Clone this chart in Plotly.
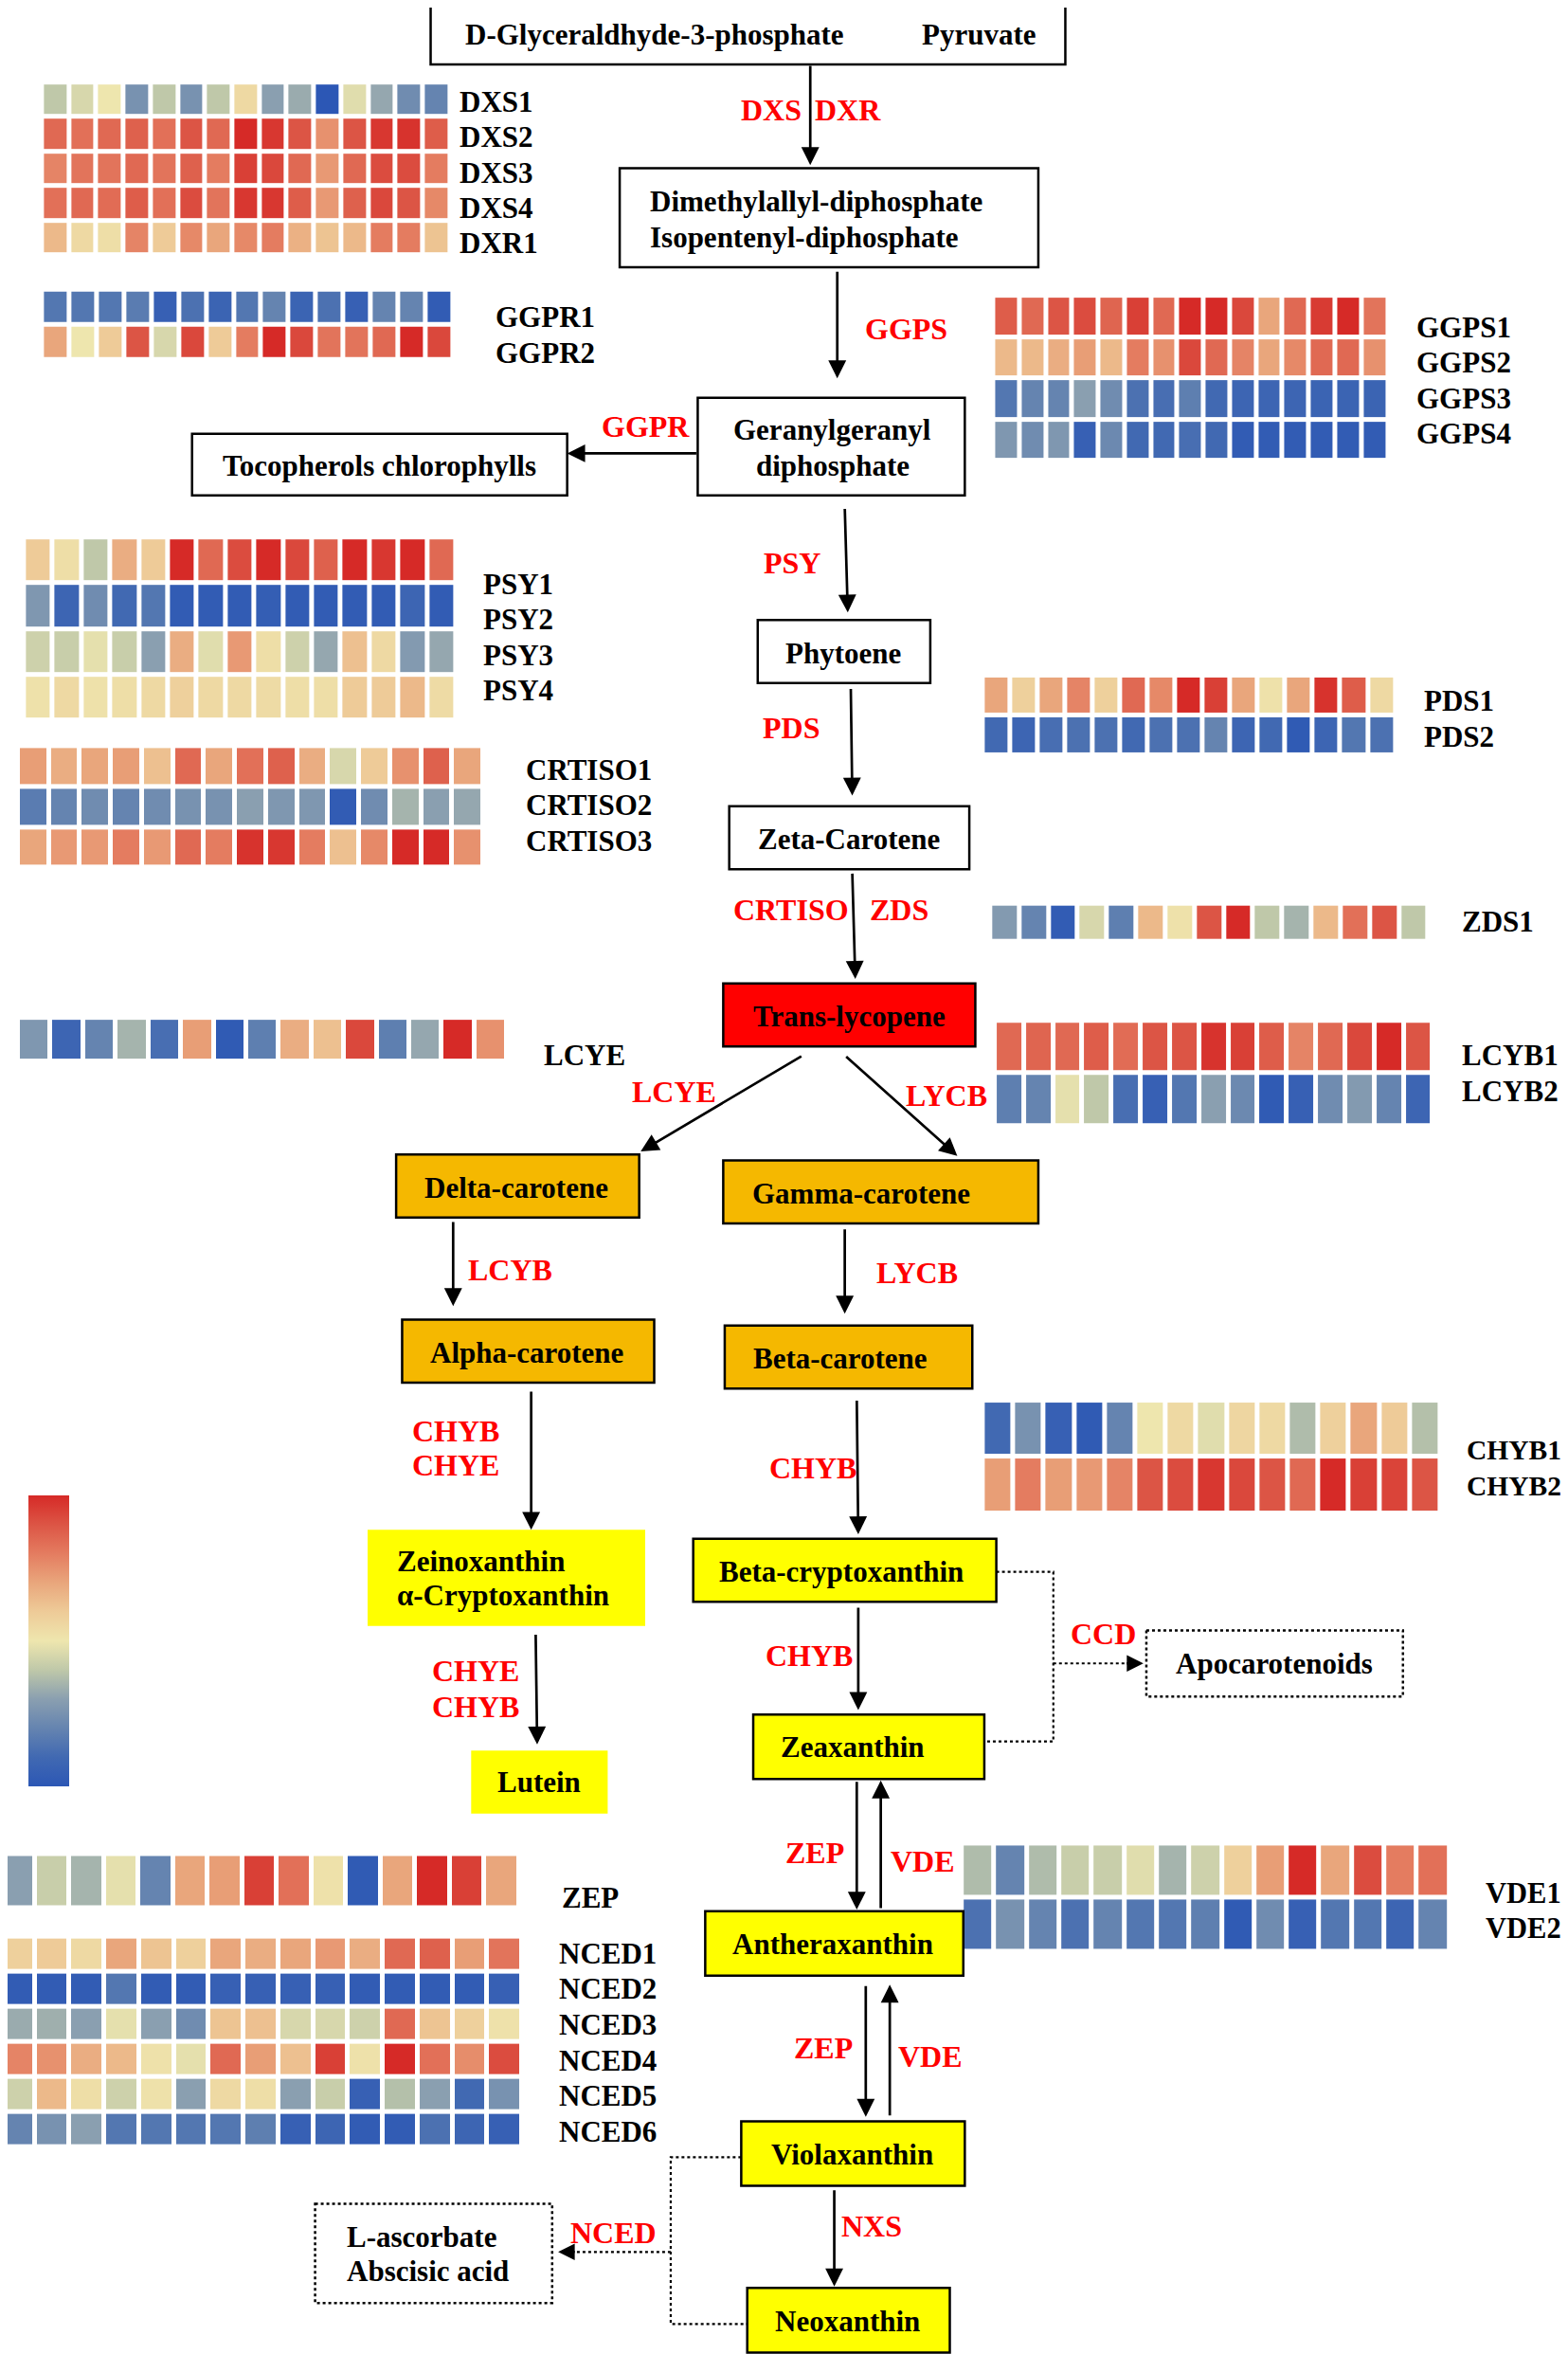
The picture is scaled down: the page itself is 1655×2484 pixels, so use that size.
import plotly.graph_objects as go

# ---------------- DATA (expression level, 0 = low/blue ... 10 = high/red) ----------------
DXS_GENES = ["DXS1", "DXS2", "DXS3", "DXS4", "DXR1"]
DXS_VALUES = [
    [4, 4.5, 5, 2.5, 4, 2.5, 4, 5.5, 3, 3.3, 0, 4.7, 3.2, 2.3, 2],
    [8.5, 8.3, 8.5, 8.7, 8.3, 9, 8.5, 10, 9.7, 9, 7.5, 9, 9.7, 9.8, 8.8],
    [7.8, 8.2, 8.2, 8.5, 8.2, 8.7, 8, 9.5, 9.3, 8.5, 7.3, 8.5, 9.2, 9.2, 8],
    [8.3, 8.5, 8.4, 8.8, 8.3, 9.2, 8.2, 9.7, 9.7, 8.8, 7.3, 8.7, 9.3, 9, 7.7],
    [6.5, 5.5, 5.3, 7.8, 6, 7.7, 7, 7.7, 8, 6.7, 6.2, 6.5, 8, 8, 6.2],
]
GGPR_GENES = ["GGPR1", "GGPR2"]
GGPR_VALUES = [
    [1.5, 1.5, 1.5, 1.7, 0.5, 1.3, 0.7, 1.5, 2, 0.7, 1.3, 0.5, 2, 2, 0.3],
    [7, 5, 6, 9, 4.5, 9.3, 6, 8, 10, 9.3, 8.2, 8.2, 8.5, 10, 9.3],
]
GGPS_GENES = ["GGPS1", "GGPS2", "GGPS3", "GGPS4"]
GGPS_VALUES = [
    [8.8, 8.5, 9, 9.2, 8.6, 9.5, 8.5, 10, 10, 9.3, 7, 8.5, 9.6, 10, 8.2],
    [6.5, 6.5, 6.8, 7.2, 6.5, 8, 7.5, 9.3, 8.5, 7.8, 7, 7.7, 8.5, 8.5, 7.5],
    [1.5, 2, 2, 3, 2.3, 1.3, 1.2, 1.8, 1, 0.8, 0.8, 0.8, 0.7, 0.7, 0.7],
    [2.7, 2.3, 2.7, 0.5, 2.2, 1, 1, 1.2, 1, 0.3, 0.3, 0.3, 0.3, 0.3, 0.3],
]
PSY_GENES = ["PSY1", "PSY2", "PSY3", "PSY4"]
PSY_VALUES = [
    [6, 5.3, 4, 6.8, 6, 10, 8.5, 9.2, 10, 9.3, 8.7, 10, 9.7, 10, 8.5],
    [2.7, 0.8, 2.3, 1, 1.5, 0.3, 0.3, 0.3, 0.4, 0.3, 0.3, 0.3, 0.3, 0.8, 0.3],
    [4.3, 4.2, 4.8, 4.2, 3, 6.8, 4.7, 7.3, 5.3, 4.3, 3.2, 6.3, 5.5, 2.8, 3.2],
    [5.2, 5.5, 5.2, 5.3, 5.5, 5.8, 5.5, 5.5, 5.4, 5.3, 5.3, 6, 6, 6.5, 5.4],
]
CRTISO_GENES = ["CRTISO1", "CRTISO2", "CRTISO3"]
CRTISO_VALUES = [
    [7.2, 6.8, 7, 7.2, 6.3, 8.5, 7, 8.3, 8.7, 6.8, 4.5, 6, 7.5, 8.7, 7],
    [1.7, 2, 2.3, 2, 2.3, 2.5, 2.5, 3, 2.7, 2.7, 0.3, 2.3, 3.5, 3, 3.2],
    [7, 7.3, 7.3, 8, 7.3, 8.5, 8, 9.8, 9.7, 8, 6.3, 7.7, 10, 10, 7.5],
]
PDS_GENES = ["PDS1", "PDS2"]
PDS_VALUES = [
    [7, 5.8, 7, 7.8, 5.8, 8.5, 7.7, 10, 9.5, 7, 5.2, 7, 9.8, 8.8, 5.5],
    [1, 0.8, 1.2, 1.3, 1.3, 1, 1.3, 1.3, 2, 0.8, 1, 0.2, 0.8, 1.5, 1.3],
]
ZDS_GENES = ["ZDS1"]
ZDS_VALUES = [
    [2.8, 2, 0.3, 4.5, 1.8, 6.5, 5.2, 9, 10, 4, 3.5, 6.5, 8.3, 9, 4],
]
LCYE_GENES = ["LCYE"]
LCYE_VALUES = [
    [2.7, 0.8, 2, 3.5, 1.2, 7.2, 0.2, 1.8, 6.8, 6.3, 9.3, 1.8, 3.2, 10, 7.5],
]
LCYB_GENES = ["LCYB1", "LCYB2"]
LCYB_VALUES = [
    [8.5, 8.6, 8.5, 8.8, 8.4, 9, 9, 9.8, 9.5, 8.8, 7.8, 8.5, 9.3, 10, 9],
    [1.8, 2, 4.8, 4, 1.2, 0.5, 1.5, 3, 2.2, 0.2, 0.5, 2.3, 2.8, 2, 0.8],
]
CHYB_GENES = ["CHYB1", "CHYB2"]
CHYB_VALUES = [
    [1, 2.5, 0.5, 0.2, 2, 5, 5.5, 4.7, 5.6, 5.5, 3.7, 5.8, 7, 6, 3.8],
    [7.2, 8, 7.2, 7.3, 7.8, 9, 9.2, 9.7, 9.3, 9, 8.5, 10, 9.5, 9.4, 9],
]
ZEP_GENES = ["ZEP"]
ZEP_VALUES = [
    [3, 4.2, 3.5, 4.8, 2, 7, 7.2, 9.5, 8.3, 5.2, 0.2, 7, 10, 9.5, 7],
]
NCED_GENES = ["NCED1", "NCED2", "NCED3", "NCED4", "NCED5", "NCED6"]
NCED_VALUES = [
    [5.8, 6, 5.5, 7, 6.2, 5.8, 7, 6.8, 7, 7.3, 6.8, 8.5, 8.7, 7.2, 8.2],
    [0.3, 0.3, 0.3, 1.5, 0.3, 0.3, 0.5, 0.5, 0.5, 0.5, 0.3, 0.3, 0.3, 0.3, 0.5],
    [3.3, 3.4, 3, 4.8, 3, 2.3, 6.2, 6.3, 4.5, 4.5, 4.3, 8.5, 6.2, 5.8, 5.2],
    [7.8, 7.5, 6.8, 6.5, 5.2, 4.8, 8.5, 7.2, 6.3, 9.5, 5.2, 10, 8.3, 7.6, 9.2],
    [4.3, 6.5, 5.3, 4.3, 5.2, 3, 5.5, 5.3, 3, 4.2, 0.5, 3.8, 3, 1, 2.5],
    [2, 2.5, 3, 1.5, 1.5, 1.5, 1.5, 1.8, 0.5, 0.8, 0.3, 0.3, 1.3, 0.8, 0.5],
]
VDE_GENES = ["VDE1", "VDE2"]
VDE_VALUES = [
    [3.7, 2, 3.7, 4.2, 4.2, 4.7, 3.5, 4.3, 5.8, 7.2, 10, 7, 9.2, 8, 8.3],
    [1.3, 2.5, 2, 1.3, 2, 1.5, 1.5, 1.8, 0.2, 2.3, 0.5, 1.5, 1.5, 0.8, 2],
]

# ---------------- LAYOUT (coordinates in a 1045 x 1568 frame) ----------------
XR, YR = 1045, 1568
PAGE_MARGIN = 8                     # default body margin of the html page (px)
SCALE = 1655 / XR
X0 = PAGE_MARGIN / SCALE
Y0 = PAGE_MARGIN / SCALE
FIG_W, FIG_H = 1655 - PAGE_MARGIN, 2484 - PAGE_MARGIN

FONT = "Liberation Serif, Times New Roman, serif"
FS = 31
FS_RED = 32
RED = "#ff0000"

COLORSCALE = [
    [0.0, "#2c57b5"], [0.1, "#4169b2"], [0.2, "#6584b0"], [0.3, "#8a9fb0"],
    [0.4, "#bfc8a9"], [0.5, "#eee6ae"], [0.6, "#eecb98"], [0.7, "#e9a67c"],
    [0.8, "#e47c60"], [0.9, "#dc5545"], [1.0, "#d62a27"],
]

# (genes, values, (x_left, x_right, y_top, y_bottom), (label_x, label_y0, label_dy, size))
BLOCKS = [
    (DXS_GENES, DXS_VALUES, (28, 300, 55, 170), (305, 68, 23.5, FS)),
    (GGPR_GENES, GGPR_VALUES, (28, 302, 193, 240), (329, 211, 24, FS)),
    (GGPS_GENES, GGPS_VALUES, (662, 925, 197, 307), (943, 218, 23.7, FS)),
    (PSY_GENES, PSY_VALUES, (16, 304, 358, 480), (321, 389, 23.7, FS)),
    (CRTISO_GENES, CRTISO_VALUES, (12, 322, 497, 578), (349, 513, 23.5, FS)),
    (PDS_GENES, PDS_VALUES, (655, 930, 450, 503), (948, 467, 24, FS)),
    (ZDS_GENES, ZDS_VALUES, (660, 952, 602, 627), (973, 614, 24, FS)),
    (LCYE_GENES, LCYE_VALUES, (12, 338, 678, 707), (361, 703, 24, FS)),
    (LCYB_GENES, LCYB_VALUES, (663, 955, 680, 750), (973, 703, 24, FS)),
    (CHYB_GENES, CHYB_VALUES, (655, 960, 933, 1008), (976, 966, 24, 29.5)),
    (ZEP_GENES, ZEP_VALUES, (0, 346, 1235, 1271), (373, 1264, 24, FS)),
    (NCED_GENES, NCED_VALUES, (0, 348, 1290, 1430), (371, 1301, 23.8, FS)),
    (VDE_GENES, VDE_VALUES, (641, 966, 1228, 1300), (989, 1261, 23.5, 30.5)),
]

fig = go.Figure()
annotations = []
shapes = []

for i, (genes, vals, (xl, xr, yt, yb), (lx, ly0, ldy, lfs)) in enumerate(BLOCKS):
    ncol = len(vals[0])
    nrow = len(vals)
    dx = (xr - xl) / ncol
    dy = (yb - yt) / nrow
    tr = dict(
        z=vals, x0=xl + dx / 2, dx=dx, y0=yt + dy / 2, dy=dy,
        colorscale=COLORSCALE, zmin=0, zmax=10, xgap=5, ygap=5,
        hoverinfo="skip", showscale=(i == 0),
    )
    if i == 0:
        tr["colorbar"] = dict(
            x=(19 - X0) / (XR - X0), xanchor="left",
            y=(YR - 1093) / (YR - Y0), yanchor="middle",
            len=194 / (YR - Y0), lenmode="fraction", thickness=43, thicknessmode="pixels",
            showticklabels=False, ticks="", outlinewidth=0, xpad=0, ypad=0,
        )
    fig.add_trace(go.Heatmap(**tr))
    for k, g in enumerate(genes):
        annotations.append(dict(
            x=lx, y=ly0 + k * ldy, text=g, showarrow=False, xanchor="left", yanchor="middle",
            font=dict(family=FONT, size=lfs, color="black", weight="bold"),
        ))

# Boxes: (x0, x1, y0, y1, fill, border)
BOXES = [
    (287, 710, 2, 43, "white", "solid"),
    (413, 692, 112, 178, "white", "solid"),
    (465, 643, 265, 330, "white", "solid"),
    (128, 378, 289, 330, "white", "solid"),
    (505, 620, 413, 455, "white", "solid"),
    (486, 646, 537, 579, "white", "solid"),
    (482, 650, 655, 697, "#ff0000", "solid"),
    (264, 426, 769, 811, "#f5b800", "solid"),
    (482, 692, 773, 815, "#f5b800", "solid"),
    (268, 436, 879, 921, "#f5b800", "solid"),
    (483, 648, 883, 925, "#f5b800", "solid"),
    (245, 430, 1019, 1083, "#ffff00", None),
    (462, 664, 1025, 1067, "#ffff00", "solid"),
    (314, 405, 1166, 1208, "#ffff00", None),
    (502, 656, 1142, 1185, "#ffff00", "solid"),
    (470, 642, 1273, 1316, "#ffff00", "solid"),
    (494, 643, 1413, 1456, "#ffff00", "solid"),
    (498, 633, 1524, 1567, "#ffff00", "solid"),
    (764, 935, 1086, 1130, "white", "dot"),
    (210, 368, 1468, 1534, "white", "dot"),
]
for (x0, x1, y0, y1, fill, border) in BOXES:
    line = dict(width=0) if border is None else dict(color="black", width=2.5, dash=border)
    shapes.append(dict(type="rect", xref="x", yref="y", x0=x0, x1=x1, y0=y0, y1=y1,
                       fillcolor=fill, line=line, layer="above"))

# Box texts: (x, y, text, xanchor)
BOX_TEXTS = [
    (309, 23, "D-Glyceraldhyde-3-phosphate", "left"),
    (692, 23, "Pyruvate", "right"),
    (432, 134, "Dimethylallyl-diphosphate", "left"),
    (432, 158, "Isopentenyl-diphosphate", "left"),
    (555, 286, "Geranylgeranyl", "center"),
    (555, 310, "diphosphate", "center"),
    (253, 310, "Tocopherols chlorophylls", "center"),
    (562, 435, "Phytoene", "center"),
    (566, 559, "Zeta-Carotene", "center"),
    (566, 677, "Trans-lycopene", "center"),
    (344, 791, "Delta-carotene", "center"),
    (574, 795, "Gamma-carotene", "center"),
    (351, 901, "Alpha-carotene", "center"),
    (560, 905, "Beta-carotene", "center"),
    (263, 1040, "Zeinoxanthin", "left"),
    (263, 1063, "α-Cryptoxanthin", "left"),
    (561, 1047, "Beta-cryptoxanthin", "center"),
    (359, 1187, "Lutein", "center"),
    (568, 1164, "Zeaxanthin", "center"),
    (555, 1295, "Antheraxanthin", "center"),
    (568, 1435, "Violaxanthin", "center"),
    (565, 1546, "Neoxanthin", "center"),
    (849, 1108, "Apocarotenoids", "center"),
    (230, 1490, "L-ascorbate", "left"),
    (230, 1513, "Abscisic acid", "left"),
]
for (x, y, t, xa) in BOX_TEXTS:
    annotations.append(dict(x=x, y=y, text=t, showarrow=False, xanchor=xa, yanchor="middle",
                            font=dict(family=FONT, size=FS, color="black", weight="bold")))

# Enzyme labels
ENZ = [
    (514, 73, "DXS"), (565, 73, "DXR"), (604, 219, "GGPS"), (430, 284, "GGPR"),
    (528, 375, "PSY"), (527, 485, "PDS"), (527, 606, "CRTISO"), (599, 606, "ZDS"),
    (449, 727, "LCYE"), (631, 730, "LYCB"), (340, 846, "LCYB"), (611, 848, "LYCB"),
    (304, 953, "CHYB"), (304, 976, "CHYE"), (542, 978, "CHYB"),
    (317, 1113, "CHYE"), (317, 1137, "CHYB"), (539, 1103, "CHYB"), (735, 1088, "CCD"),
    (543, 1234, "ZEP"), (615, 1240, "VDE"), (549, 1364, "ZEP"), (620, 1370, "VDE"),
    (581, 1483, "NXS"), (409, 1487, "NCED"),
]
for (x, y, t) in ENZ:
    annotations.append(dict(x=x, y=y, text=t, showarrow=False, xanchor="center", yanchor="middle",
                            font=dict(family=FONT, size=FS_RED, color=RED, weight="bold")))

# Solid arrows: (tail_x, tail_y, head_x, head_y)
ARROWS = [
    (540, 43, 540, 110), (558, 180, 558, 252), (465, 302, 378, 302),
    (563, 338, 565, 408), (567, 458, 568, 530), (568, 581, 570, 652),
    (535, 703, 427, 767), (563, 703, 638, 770), (302, 813, 302, 870),
    (563, 818, 563, 875), (354, 926, 354, 1019), (571, 932, 572, 1022),
    (357, 1088, 358, 1162), (572, 1070, 572, 1139), (571, 1186, 571, 1272),
    (587, 1272, 587, 1186), (577, 1322, 577, 1410), (593, 1410, 593, 1322),
    (556, 1458, 556, 1523),
]
for (tx, ty, hx, hy) in ARROWS:
    annotations.append(dict(x=hx, y=hy, ax=tx, ay=ty, xref="x", yref="y", axref="x", ayref="y",
                            text="", showarrow=True, arrowhead=2, arrowsize=1.4, arrowwidth=2.7,
                            arrowcolor="black", standoff=0, startstandoff=0))

# Dotted connectors
DOT_PATHS = [
    "M 664 1047 L 702 1047 L 702 1160 L 656 1160",
    "M 702 1108 L 752 1108",
    "M 494 1437 L 447 1437 L 447 1548 L 498 1548",
    "M 447 1500 L 382 1500",
]
for p in DOT_PATHS:
    shapes.append(dict(type="path", path=p, xref="x", yref="y",
                       line=dict(color="black", width=2.2, dash="dot")))
# dotted arrow heads
for (tx, ty, hx, hy) in [(750, 1108, 762, 1108), (384, 1500, 372, 1500)]:
    annotations.append(dict(x=hx, y=hy, ax=tx, ay=ty, xref="x", yref="y", axref="x", ayref="y",
                            text="", showarrow=True, arrowhead=2, arrowsize=1.4, arrowwidth=2.5,
                            arrowcolor="black", standoff=0))

fig.update_layout(
    width=FIG_W, height=FIG_H, margin=dict(l=0, r=0, t=0, b=0),
    paper_bgcolor="white", plot_bgcolor="white",
    xaxis=dict(range=[X0, XR], visible=False, fixedrange=True),
    yaxis=dict(range=[YR, Y0], visible=False, fixedrange=True),
    annotations=annotations, shapes=shapes, showlegend=False,
)
fig.write_html("out.html")
